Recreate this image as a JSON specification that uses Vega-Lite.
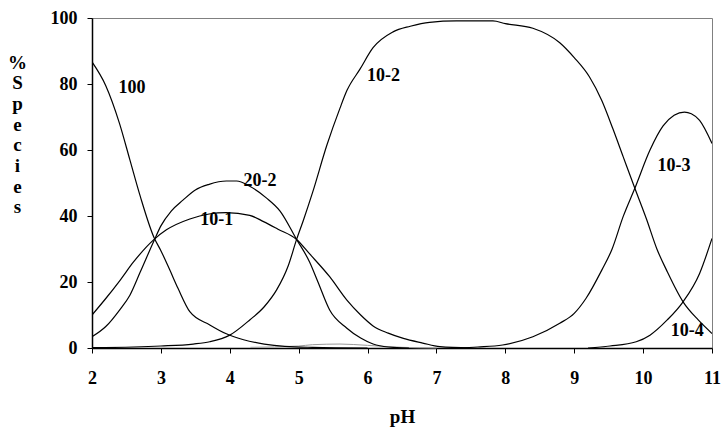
{
  "$schema": "https://vega.github.io/schema/vega-lite/v6.json",
  "width": 620,
  "height": 330,
  "autosize": {"type": "none"},
  "padding": {"left": 92, "top": 18, "right": 10, "bottom": 79},
  "background": "white",
  "config": {
    "view": {"stroke": "#808080", "strokeWidth": 1},
    "font": "Liberation Serif"
  },
  "datasets": {
    "curves": [
      {"series": "100", "pH": 2, "pct": 86.7}, {"series": "100", "pH": 2.2, "pct": 79.5}, {"series": "100", "pH": 2.4, "pct": 68}, {"series": "100", "pH": 2.55, "pct": 57}, {"series": "100", "pH": 2.7, "pct": 46}, {"series": "100", "pH": 2.9, "pct": 33.5}, {"series": "100", "pH": 3.0, "pct": 29.5}, {"series": "100", "pH": 3.13, "pct": 23.6}, {"series": "100", "pH": 3.25, "pct": 18}, {"series": "100", "pH": 3.42, "pct": 11}, {"series": "100", "pH": 3.71, "pct": 7}, {"series": "100", "pH": 3.95, "pct": 4.3}, {"series": "100", "pH": 4.2, "pct": 2.5}, {"series": "100", "pH": 4.5, "pct": 1.2}, {"series": "100", "pH": 4.8, "pct": 0.5}, {"series": "100", "pH": 5.2, "pct": 0.2}, {"series": "100", "pH": 6, "pct": 0},

      {"series": "20-2", "pH": 2, "pct": 3.4}, {"series": "20-2", "pH": 2.2, "pct": 6.5}, {"series": "20-2", "pH": 2.4, "pct": 11.5}, {"series": "20-2", "pH": 2.55, "pct": 16}, {"series": "20-2", "pH": 2.7, "pct": 23}, {"series": "20-2", "pH": 2.9, "pct": 32.5}, {"series": "20-2", "pH": 3.0, "pct": 37}, {"series": "20-2", "pH": 3.15, "pct": 41.5}, {"series": "20-2", "pH": 3.32, "pct": 44.8}, {"series": "20-2", "pH": 3.5, "pct": 47.9}, {"series": "20-2", "pH": 3.7, "pct": 49.6}, {"series": "20-2", "pH": 3.95, "pct": 50.6}, {"series": "20-2", "pH": 4.1, "pct": 50.6}, {"series": "20-2", "pH": 4.29, "pct": 49}, {"series": "20-2", "pH": 4.53, "pct": 45.5}, {"series": "20-2", "pH": 4.73, "pct": 41.5}, {"series": "20-2", "pH": 4.97, "pct": 32.9}, {"series": "20-2", "pH": 5.16, "pct": 26}, {"series": "20-2", "pH": 5.28, "pct": 20}, {"series": "20-2", "pH": 5.45, "pct": 11.5}, {"series": "20-2", "pH": 5.7, "pct": 6}, {"series": "20-2", "pH": 5.9, "pct": 3}, {"series": "20-2", "pH": 6.08, "pct": 1.2}, {"series": "20-2", "pH": 6.3, "pct": 0.3}, {"series": "20-2", "pH": 6.6, "pct": 0},

      {"series": "10-1", "pH": 2, "pct": 10}, {"series": "10-1", "pH": 2.2, "pct": 15}, {"series": "10-1", "pH": 2.41, "pct": 20.6}, {"series": "10-1", "pH": 2.6, "pct": 26}, {"series": "10-1", "pH": 2.89, "pct": 32.7}, {"series": "10-1", "pH": 3.08, "pct": 35.8}, {"series": "10-1", "pH": 3.42, "pct": 39.1}, {"series": "10-1", "pH": 3.7, "pct": 40.6}, {"series": "10-1", "pH": 3.95, "pct": 41}, {"series": "10-1", "pH": 4.29, "pct": 40.2}, {"series": "10-1", "pH": 4.49, "pct": 38.3}, {"series": "10-1", "pH": 4.7, "pct": 36}, {"series": "10-1", "pH": 4.97, "pct": 32.9}, {"series": "10-1", "pH": 5.16, "pct": 28.5}, {"series": "10-1", "pH": 5.45, "pct": 21.6}, {"series": "10-1", "pH": 5.7, "pct": 14.5}, {"series": "10-1", "pH": 5.9, "pct": 10}, {"series": "10-1", "pH": 6.08, "pct": 6.7}, {"series": "10-1", "pH": 6.3, "pct": 4.5}, {"series": "10-1", "pH": 6.52, "pct": 2.9}, {"series": "10-1", "pH": 6.8, "pct": 1.5}, {"series": "10-1", "pH": 7.05, "pct": 0.4}, {"series": "10-1", "pH": 7.5, "pct": 0},

      {"series": "10-2", "pH": 2, "pct": 0.1}, {"series": "10-2", "pH": 2.6, "pct": 0.3}, {"series": "10-2", "pH": 3.0, "pct": 0.6}, {"series": "10-2", "pH": 3.47, "pct": 1.2}, {"series": "10-2", "pH": 3.71, "pct": 1.9}, {"series": "10-2", "pH": 4.0, "pct": 3.9}, {"series": "10-2", "pH": 4.29, "pct": 8.5}, {"series": "10-2", "pH": 4.5, "pct": 12.5}, {"series": "10-2", "pH": 4.68, "pct": 17.6}, {"series": "10-2", "pH": 4.85, "pct": 25}, {"series": "10-2", "pH": 4.97, "pct": 32.9}, {"series": "10-2", "pH": 5.07, "pct": 38.8}, {"series": "10-2", "pH": 5.2, "pct": 47}, {"series": "10-2", "pH": 5.41, "pct": 61.5}, {"series": "10-2", "pH": 5.6, "pct": 72.7}, {"series": "10-2", "pH": 5.7, "pct": 78}, {"series": "10-2", "pH": 5.89, "pct": 84.5}, {"series": "10-2", "pH": 6.08, "pct": 91}, {"series": "10-2", "pH": 6.37, "pct": 95.8}, {"series": "10-2", "pH": 6.62, "pct": 97.5}, {"series": "10-2", "pH": 6.9, "pct": 98.7}, {"series": "10-2", "pH": 7.29, "pct": 99.1}, {"series": "10-2", "pH": 7.82, "pct": 99.1}, {"series": "10-2", "pH": 8.0, "pct": 98.3}, {"series": "10-2", "pH": 8.4, "pct": 96.9}, {"series": "10-2", "pH": 8.79, "pct": 92.5}, {"series": "10-2", "pH": 9.0, "pct": 88}, {"series": "10-2", "pH": 9.22, "pct": 82.2}, {"series": "10-2", "pH": 9.4, "pct": 75}, {"series": "10-2", "pH": 9.56, "pct": 66.5}, {"series": "10-2", "pH": 9.71, "pct": 58}, {"series": "10-2", "pH": 9.88, "pct": 48.4}, {"series": "10-2", "pH": 10.05, "pct": 39}, {"series": "10-2", "pH": 10.2, "pct": 30}, {"series": "10-2", "pH": 10.34, "pct": 23.6}, {"series": "10-2", "pH": 10.58, "pct": 14}, {"series": "10-2", "pH": 10.8, "pct": 8.5}, {"series": "10-2", "pH": 11, "pct": 4.4},

      {"series": "10-3", "pH": 7.3, "pct": 0}, {"series": "10-3", "pH": 7.6, "pct": 0.3}, {"series": "10-3", "pH": 7.96, "pct": 0.9}, {"series": "10-3", "pH": 8.4, "pct": 3.4}, {"series": "10-3", "pH": 8.79, "pct": 7.5}, {"series": "10-3", "pH": 9.0, "pct": 10.5}, {"series": "10-3", "pH": 9.17, "pct": 15}, {"series": "10-3", "pH": 9.4, "pct": 23.6}, {"series": "10-3", "pH": 9.55, "pct": 30}, {"series": "10-3", "pH": 9.71, "pct": 39.8}, {"series": "10-3", "pH": 9.88, "pct": 48.4}, {"series": "10-3", "pH": 10.1, "pct": 60}, {"series": "10-3", "pH": 10.29, "pct": 67.3}, {"series": "10-3", "pH": 10.45, "pct": 70.5}, {"series": "10-3", "pH": 10.6, "pct": 71.5}, {"series": "10-3", "pH": 10.7, "pct": 71}, {"series": "10-3", "pH": 10.82, "pct": 69}, {"series": "10-3", "pH": 11, "pct": 62},

      {"series": "10-4", "pH": 9.2, "pct": 0}, {"series": "10-4", "pH": 9.52, "pct": 0.6}, {"series": "10-4", "pH": 9.9, "pct": 1.9}, {"series": "10-4", "pH": 10.1, "pct": 3.9}, {"series": "10-4", "pH": 10.35, "pct": 8.5}, {"series": "10-4", "pH": 10.58, "pct": 14}, {"series": "10-4", "pH": 10.82, "pct": 22.6}, {"series": "10-4", "pH": 11, "pct": 33.2}
    ],
    "minor": [
      {"series": "minor", "pH": 4.3, "pct": 0.2}, {"series": "minor", "pH": 5.0, "pct": 0.6}, {"series": "minor", "pH": 5.2, "pct": 1.0}, {"series": "minor", "pH": 5.6, "pct": 1.2}, {"series": "minor", "pH": 6.0, "pct": 0.8}, {"series": "minor", "pH": 6.5, "pct": 0.2}, {"series": "minor", "pH": 7.0, "pct": 0}
    ],
    "labels": [
      {"text": "100", "pH": 2.58, "pct": 78.8},
      {"text": "20-2", "pH": 4.44, "pct": 50.6},
      {"text": "10-1", "pH": 3.81, "pct": 38.8},
      {"text": "10-2", "pH": 6.23, "pct": 82.4},
      {"text": "10-3", "pH": 10.45, "pct": 55.2},
      {"text": "10-4", "pH": 10.64, "pct": 5.2}
    ]
  },
  "layer": [
    {
      "data": {"name": "minor"},
      "mark": {"type": "line", "color": "#999999", "strokeWidth": 1, "interpolate": "monotone"},
      "encoding": {
        "x": {"field": "pH", "type": "quantitative"},
        "y": {"field": "pct", "type": "quantitative"}
      }
    },
    {
      "data": {"name": "curves"},
      "mark": {"type": "line", "color": "black", "strokeWidth": 1.2, "interpolate": "monotone", "clip": true},
      "encoding": {
        "detail": {"field": "series"},
        "x": {
          "field": "pH", "type": "quantitative",
          "scale": {"domain": [2, 11], "nice": false, "zero": false},
          "axis": {
            "title": "pH",
            "values": [2, 2.5, 3, 3.5, 4, 4.5, 5, 5.5, 6, 6.5, 7, 7.5, 8, 8.5, 9, 9.5, 10, 10.5, 11],
            "labelExpr": "datum.value % 1 == 0 ? format(datum.value, 'd') : ''",
            "grid": false,
            "domainColor": "black",
            "domainWidth": 1.5,
            "tickColor": "black",
            "tickSize": 5,
            "labelFont": "Liberation Serif",
            "labelFontWeight": "bold",
            "labelFontSize": 18,
            "labelColor": "black",
            "labelPadding": 16,
            "labelFlush": false,
            "titleFont": "Liberation Serif",
            "titleFontWeight": "bold",
            "titleFontSize": 19,
            "titleColor": "black",
            "titlePadding": 20
          }
        },
        "y": {
          "field": "pct", "type": "quantitative",
          "scale": {"domain": [0, 100], "nice": false},
          "axis": {
            "title": ["%", "S", "p", "e", "c", "i", "e", "s"],
            "values": [0, 10, 20, 30, 40, 50, 60, 70, 80, 90, 100],
            "labelExpr": "datum.value % 20 == 0 ? format(datum.value, 'd') : ''",
            "grid": false,
            "domainColor": "black",
            "domainWidth": 1.5,
            "tickColor": "black",
            "tickSize": 5,
            "labelFont": "Liberation Serif",
            "labelFontWeight": "bold",
            "labelFontSize": 18,
            "labelColor": "black",
            "labelPadding": 10,
            "labelFlush": false,
            "titleFont": "Liberation Serif",
            "titleFontWeight": "bold",
            "titleFontSize": 19,
            "titleColor": "black",
            "titleAngle": 0,
            "titleAlign": "center",
            "titleBaseline": "alphabetic",
            "titleLineHeight": 20.7,
            "titleX": -75,
            "titleY": 50
          }
        }
      }
    },
    {
      "data": {"name": "labels"},
      "mark": {"type": "text", "font": "Liberation Serif", "fontWeight": "bold", "fontSize": 18, "color": "black", "align": "center", "baseline": "middle"},
      "encoding": {
        "x": {"field": "pH", "type": "quantitative"},
        "y": {"field": "pct", "type": "quantitative"},
        "text": {"field": "text"}
      }
    }
  ]
}
